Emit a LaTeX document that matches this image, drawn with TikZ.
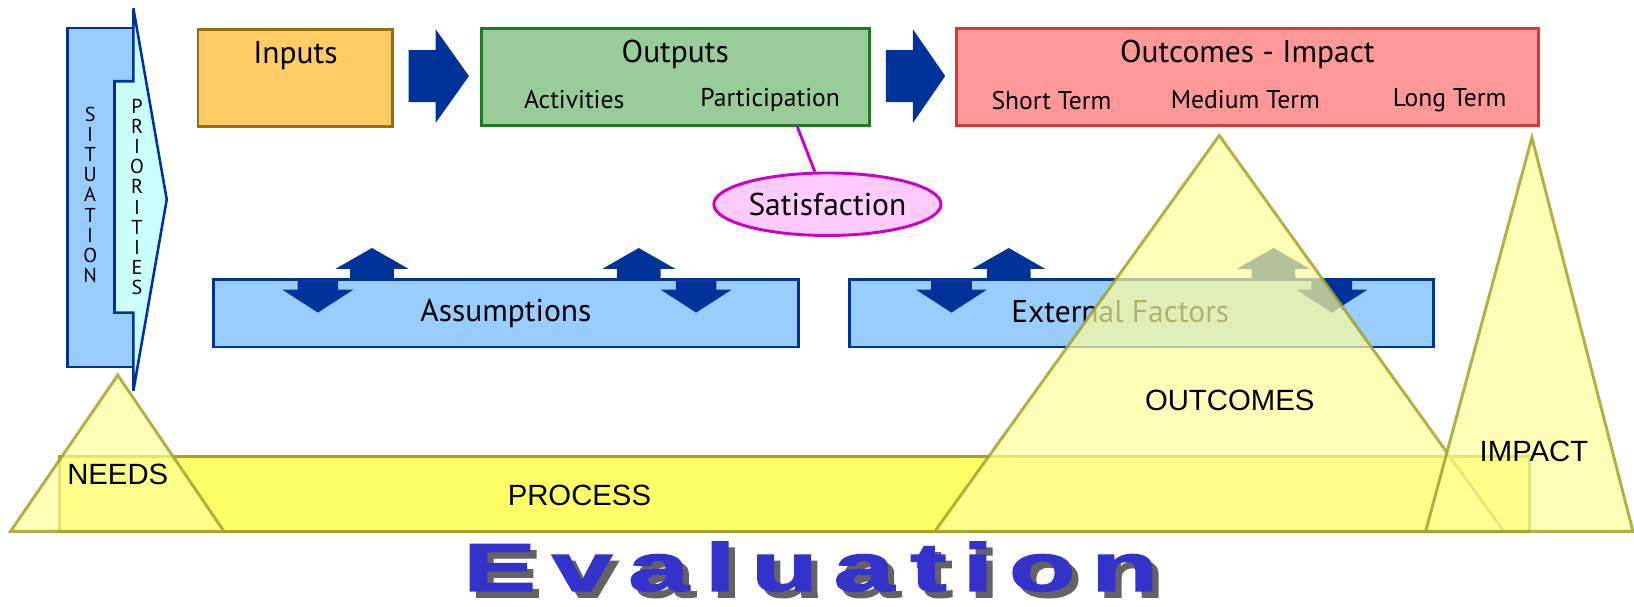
\documentclass[tikz,border=0pt]{standalone}
\usepackage{fontspec}
\setmainfont{PT Sans}
\newfontfamily\arialfont{Liberation Sans}
\newfontfamily\evalfont{Liberation Sans}[LetterSpace=15, BoldFeatures={FakeBold=2}]
\usepackage{xcolor}
\usetikzlibrary{shapes}
\usetikzlibrary{positioning}
\definecolor{navyline}{HTML}{003399}
\definecolor{sitblue}{HTML}{99CCFF}
\definecolor{prioricyan}{HTML}{CCFFFF}
\definecolor{inputfill}{HTML}{FFCC66}
\definecolor{inputline}{HTML}{9C6B12}
\definecolor{outputfill}{HTML}{99CC99}
\definecolor{outputline}{HTML}{1F7A1F}
\definecolor{outcomefill}{HTML}{FF9999}
\definecolor{outcomeline}{HTML}{D43A3A}
\definecolor{satfill}{HTML}{FFCCFF}
\definecolor{satline}{HTML}{CC00CC}
\definecolor{triyellow}{HTML}{FFFF99}
\definecolor{procyellow}{HTML}{FFFF66}
\definecolor{oliveline}{HTML}{A3A32A}
\definecolor{evalblue}{HTML}{3333CC}
\definecolor{evalgrey}{HTML}{636363}

\begin{document}
\begin{tikzpicture}[
  head/.style={font=\fontsize{17.2}{20}\selectfont},
  sub/.style={font=\fontsize{14}{17}\selectfont},
  caps/.style={font=\arialfont\fontsize{16}{19}\selectfont},
  stack/.style={align=center, inner sep=0pt, font=\fontsize{11}{11}\selectfont},
  topbox/.style={draw, rectangle, minimum height=1.86cm, line width=1.6pt},
  factorbox/.style={draw=navyline, fill=sitblue, rectangle, minimum width=11.22cm, minimum height=1.30cm, line width=1.6pt},
  blockarrow/.style={fill=navyline, draw=none},
  tri/.style={draw=oliveline, fill=triyellow, line width=1.6pt, fill opacity=0.7, draw opacity=0.85}]
\useasboundingbox (0,0) rectangle (31.36,11.64);

% situation and priorities
\draw[draw=navyline, fill=sitblue, line width=1.4pt] (1.30,11.10) -- (2.56,11.10) -- (2.56,10.08) -- (2.20,10.08) -- (2.20,5.64) -- (2.56,5.64) -- (2.56,4.60) -- (1.30,4.60) -- cycle;
\draw[draw=navyline, fill=prioricyan, line width=1.4pt] (2.20,10.08) -- (2.56,10.08) -- (2.56,11.48) -- (3.20,7.81) -- (2.56,4.14) -- (2.56,5.64) -- (2.20,5.64) -- cycle;
\node at (1.73,7.90) [stack, name=Situation]{S\\I\\T\\U\\A\\T\\I\\O\\N};
\node at (2.63,7.86) [stack, name=Priorities]{P\\R\\I\\O\\R\\I\\T\\I\\E\\S};

% top row
\node at (5.67,10.15) [topbox, name=Inputs, draw=inputline, fill=inputfill, minimum width=3.74cm]{};
\node [head, below=0.14cm of Inputs.north]{Inputs};
\node at (12.96,10.17) [topbox, name=Outputs, draw=outputline, fill=outputfill, minimum width=7.44cm]{};
\node [head, below=0.14cm of Outputs.north]{Outputs};
\node at (11.02,9.72) [sub, name=Activities]{Activities};
\node at (14.78,9.72) [sub, name=Participation]{Participation};
\node at (23.94,10.17) [topbox, name=Outcomes, draw=outcomeline, fill=outcomefill, minimum width=11.16cm]{};
\node [head, below=0.14cm of Outcomes.north]{Outcomes - Impact};
\node at (20.18,9.72) [sub, name=ShortTerm]{Short Term};
\node at (23.90,9.72) [sub, name=MediumTerm]{Medium Term};
\node at (27.82,9.72) [sub, name=LongTerm]{Long Term};
\draw[blockarrow] (7.84,10.68) -- (8.36,10.68) -- (8.36,11.08) -- (9.00,10.18) -- (8.36,9.28) -- (8.36,9.68) -- (7.84,9.68) -- cycle;
\draw[blockarrow] (17.00,10.68) -- (17.52,10.68) -- (17.52,11.08) -- (18.14,10.18) -- (17.52,9.28) -- (17.52,9.68) -- (17.00,9.68) -- cycle;

% satisfaction
\node at (15.88,7.72) [draw=satline, name=Satisfaction, ellipse, fill=satfill, minimum width=4.36cm, minimum height=1.20cm, inner sep=0pt, line width=1.6pt, head]{Satisfaction};
\coordinate (SatLink) at ([xshift=2.34cm]Outputs.south);
\draw[satline, line width=1.6pt] (SatLink) -- (Satisfaction);

% assumptions and external factors
\node at (9.71,5.63) [factorbox, name=Assumptions, head]{Assumptions};
\node at (21.91,5.63) [factorbox, name=External]{};
\node at (21.50,5.66) [head, name=ExternalText]{External Factors};
\foreach \x in {6.10,13.36,18.26,25.56}
  \draw[blockarrow] (\x-0.39,6.30) -- (\x-0.39,6.08) -- (\x-0.68,6.08) -- (\x,5.64) -- (\x+0.68,6.08) -- (\x+0.39,6.08) -- (\x+0.39,6.30) -- cycle;
\foreach \x in {7.14,12.26,19.36,24.44}
  \draw[blockarrow] (\x-0.42,6.28) -- (\x-0.42,6.48) -- (\x-0.70,6.48) -- (\x,6.88) -- (\x+0.70,6.48) -- (\x+0.42,6.48) -- (\x+0.42,6.28) -- cycle;

% evaluation levels
\node at (15.25,2.16) [draw=oliveline, name=Process, rectangle, fill=procyellow, minimum width=28.22cm, minimum height=1.44cm, line width=1.6pt]{};
\draw[tri] (0.20,1.44) -- (2.26,4.44) -- (4.30,1.44) -- cycle;
\draw[tri] (17.94,1.44) -- (23.40,9.04) -- (28.86,1.44) -- cycle;
\draw[tri] (27.36,1.44) -- (29.40,9.00) -- (31.34,1.44) -- cycle;
\node at (2.26,2.54) [caps, name=Needs]{NEEDS};
\node at (11.12,2.14) [caps, name=ProcessText]{PROCESS};
\node at (23.60,3.96) [caps, name=OutcomesText]{OUTCOMES};
\node at (29.44,2.98) [caps, name=Impact]{IMPACT};

% title with its shadow
\node at (15.56,0.30) [name=Evaluation, anchor=base, inner sep=0pt, xscale=1.6, text=evalblue, font=\evalfont\bfseries\fontsize{37}{42}\selectfont]{\rlap{\hspace{0.075cm}\raisebox{-0.12cm}{\color{evalgrey}Evaluation}}Evaluation};
\end{tikzpicture}
\end{document}
